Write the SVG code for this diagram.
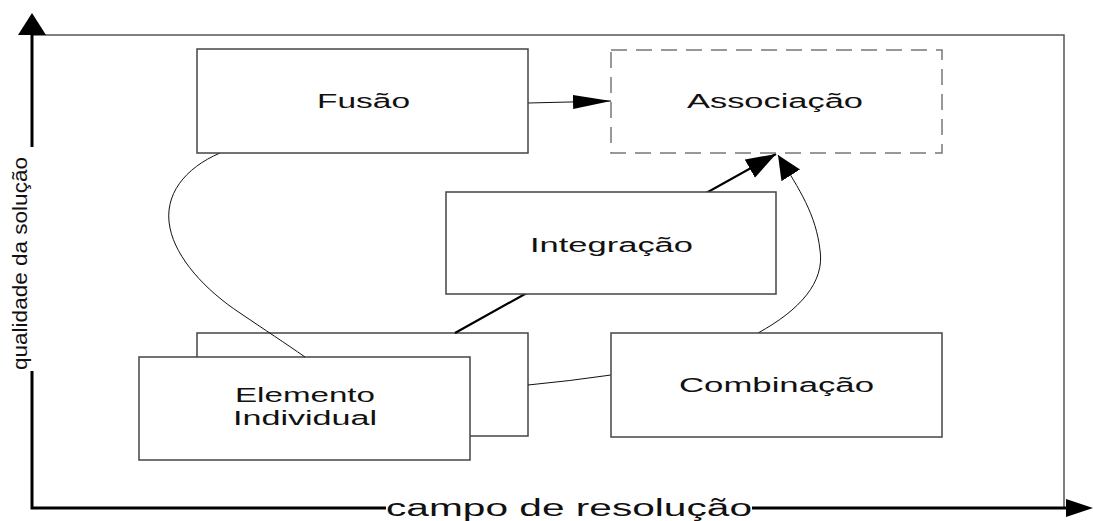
<svg xmlns="http://www.w3.org/2000/svg" width="1093" height="521" viewBox="0 0 1093 521">
<defs>
<style>
.box{fill:#fff;stroke:#444;stroke-width:1.5}
.dash{fill:none;stroke:#777;stroke-width:1.5;stroke-dasharray:16 9}
.lbl{font-family:"Liberation Sans",Arial,sans-serif;font-size:19.5px;fill:#111}
.ax{stroke:#000;stroke-width:3;fill:none}
.thin{stroke:#111;stroke-width:1;fill:none}
</style>
<marker id="ahL" markerUnits="userSpaceOnUse" markerWidth="40" markerHeight="16" refX="38" refY="7" orient="auto"><path d="M0,0 L38,7 L0,14 Z" fill="#000"/></marker>
<marker id="ahM" markerUnits="userSpaceOnUse" markerWidth="32" markerHeight="22" refX="30" refY="10.5" orient="auto"><path d="M0,0 L30,10.5 L0,21 Z" fill="#000"/></marker>
<marker id="ahS" markerUnits="userSpaceOnUse" markerWidth="26" markerHeight="24" refX="24" refY="11" orient="auto"><path d="M0,0 L24,11 L0,22 Z" fill="#000"/></marker>
</defs>
<rect width="1093" height="521" fill="#fff"/>
<g id="frame">
<path d="M32,35 H1064 V508" fill="none" stroke="#555" stroke-width="1.5"/>
<path class="ax" d="M32,147 V35"/>
<path class="ax" d="M32,371 V508 H386"/>
<path class="ax" d="M752,508 H1066"/>
<polygon points="32,13 18,35 46,35" fill="#000"/>
<polygon points="1093,508 1066,499 1066,517" fill="#000"/>
<text class="lbl" transform="translate(27,263.5) rotate(-90)" x="-106.5" y="0" textLength="213" lengthAdjust="spacingAndGlyphs">qualidade da solução</text>
<text class="lbl" style="font-size:23px" x="386" y="516" textLength="366" lengthAdjust="spacingAndGlyphs">campo de resolução</text>
</g>
<g id="elemento">
<rect class="box" x="197" y="333" width="331" height="103"/>
<rect class="box" x="139" y="357" width="331" height="103"/>
<text class="lbl" x="235" y="402" textLength="140" lengthAdjust="spacingAndGlyphs">Elemento</text>
<text class="lbl" x="233" y="425" textLength="144" lengthAdjust="spacingAndGlyphs">Individual</text>
</g>
<g id="connectors">
<path class="thin" d="M528,103 L611,101" marker-end="url(#ahL)"/>
<path d="M455,333 L776,154" stroke="#000" stroke-width="2.2" fill="none" marker-end="url(#ahM)"/>
<path class="thin" d="M758,333 C800,310 825,282 820,250 C816,215 800,190 778,155" marker-end="url(#ahS)"/>
<path class="thin" d="M220,153 C185,168 163,195 170,228 C176,258 205,290 240,313 C265,330 285,343 305,357"/>
<path class="thin" d="M528,385 Q570,381 611,375"/>
</g>
<g id="fusao">
<rect class="box" x="197" y="49" width="331" height="104"/>
<text class="lbl" x="317" y="108" textLength="93" lengthAdjust="spacingAndGlyphs">Fusão</text>
</g>
<g id="associacao">
<rect class="dash" x="611" y="50" width="331" height="103"/>
<text class="lbl" x="687" y="108" textLength="176" lengthAdjust="spacingAndGlyphs">Associação</text>
</g>
<g id="integracao">
<rect class="box" x="446" y="192" width="330" height="102"/>
<text class="lbl" x="530" y="252" textLength="163" lengthAdjust="spacingAndGlyphs">Integração</text>
</g>
<g id="combinacao">
<rect class="box" x="611" y="333" width="331" height="104"/>
<text class="lbl" x="679" y="392" textLength="195" lengthAdjust="spacingAndGlyphs">Combinação</text>
</g>
</svg>
